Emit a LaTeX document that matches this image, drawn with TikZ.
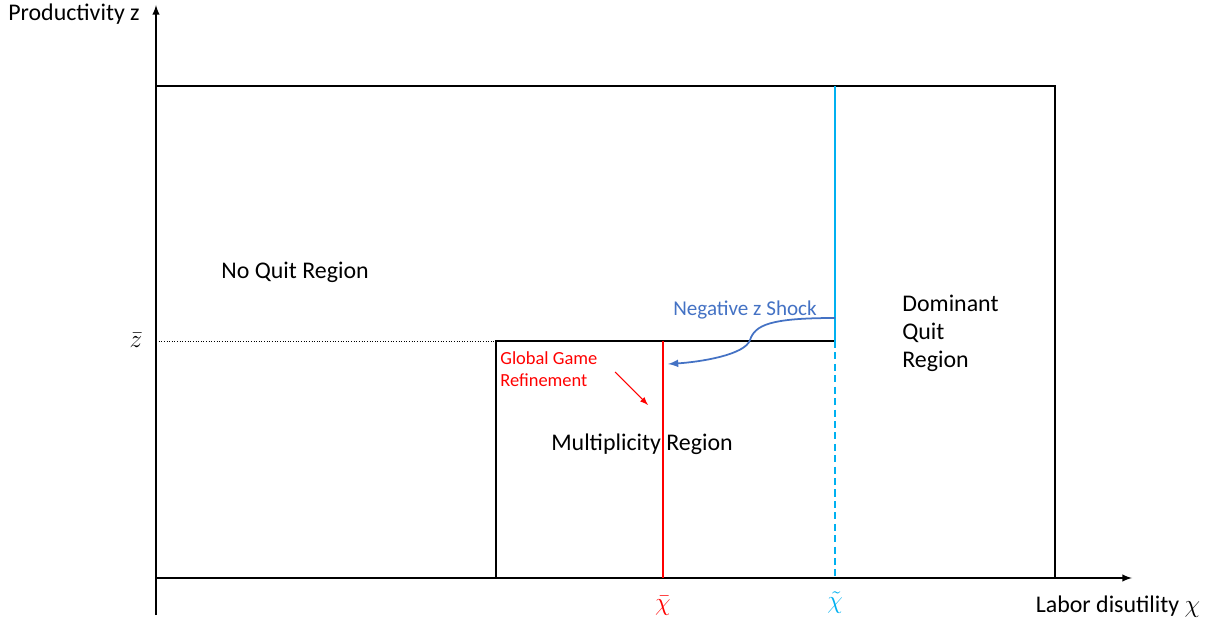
\documentclass[tikz,border=0pt]{standalone}
\usepackage{amsmath,amssymb}
\usepackage{fontspec}
\setmainfont{Carlito}
\usepackage{xcolor}
\usepackage{tikz}
\usetikzlibrary{positioning,arrows,calc}
\definecolor{shockblue}{RGB}{68,114,196}
\definecolor{tildecyan}{RGB}{0,176,240}
\definecolor{barred}{RGB}{255,0,0}

\begin{document}
\begin{tikzpicture}[every node/.style={font=\fontsize{13.6}{16}\selectfont},
  region/.style={line width=1pt},
  axis/.style={line width=0.9pt,-latex},
  mathlab/.style={font=\fontsize{15}{17}\selectfont}]
  \useasboundingbox (0,0) rectangle (24.4,12.5);
  % corners and cut points
  \coordinate (O) at (3.12,0.94);
  \coordinate (ybot) at (3.12,0.20);
  \coordinate (ytop) at (3.12,12.40);
  \coordinate (xend) at (22.64,0.94);
  \coordinate (TR) at (21.10,10.78);
  \coordinate (zbarL) at (3.12,5.68);
  \coordinate (mulTL) at (9.92,5.68);
  \coordinate (mulBL) at (9.92,0.94);
  \coordinate (redT) at (13.26,5.68);
  \coordinate (redB) at (13.26,0.94);
  \coordinate (cyanT) at (16.70,10.78);
  \coordinate (cyanM) at (16.70,5.68);
  \coordinate (cyanB) at (16.70,0.94);

  % axes
  \draw[axis] (ybot) -- (ytop);
  \draw[axis] (O) -- (xend);
  \draw[region] (O) rectangle (TR);

  % multiplicity region
  \draw[densely dotted,line width=0.5pt] (zbarL) -- (mulTL);
  \draw[region] (mulBL) -- (mulTL) -- (cyanM);
  \draw[barred,line width=1pt] (redB) -- (redT);
  \draw[tildecyan,line width=1pt] (cyanT) -- (cyanM);
  \draw[tildecyan,line width=1pt,dash pattern=on 4pt off 2.5pt] (cyanM) -- (cyanB);

  % labels
  \node (ylab) at (1.48,12.22) {Productivity z};
  \node (xlab) at (22.36,0.36) {Labor disutility \fontsize{15}{17}\selectfont$\chi$};
  \node[mathlab] (zbar) at (2.72,5.70) {$\bar{z}$};
  \node[mathlab,barred,inner sep=1pt] (chibar) at (13.26,0.38) {$\bar{\chi}$};
  \node[mathlab,tildecyan,inner sep=1pt] (chitilde) at (16.70,0.44) {$\tilde{\chi}$};
  \node (noquit) at (5.90,7.06) {No Quit Region};
  \node (multi) at (12.84,3.62) {Multiplicity Region};
  \node[anchor=west,align=left,inner sep=0pt] (domquit) at (18.04,5.84) {Dominant\\Quit\\Region};
  \node[shockblue,font=\large] (shock) at (14.90,6.30) {Negative z Shock};
  \node[barred,font=\fontsize{10.5}{12.5}\selectfont,anchor=west,align=left,inner sep=0pt] (ggr) at (10.00,5.12) {Global Game\\Refinement};

  \coordinate (ggrS) at (12.30,5.06);
  \coordinate (ggrE) at (12.96,4.40);
  \draw[barred,line width=0.6pt,-latex] (ggrS) -- (ggrE);

  \coordinate (shockS) at (16.70,6.14);
  \coordinate (shockM) at (15.00,5.70);
  \coordinate (shockE) at (13.36,5.22);
  \draw[shockblue,line width=1pt,-latex] (shockS) .. controls (15.40,6.14) and (15.10,6.00) .. (shockM)
    .. controls (14.90,5.40) and (14.00,5.26) .. (shockE);
\end{tikzpicture}
\end{document}
